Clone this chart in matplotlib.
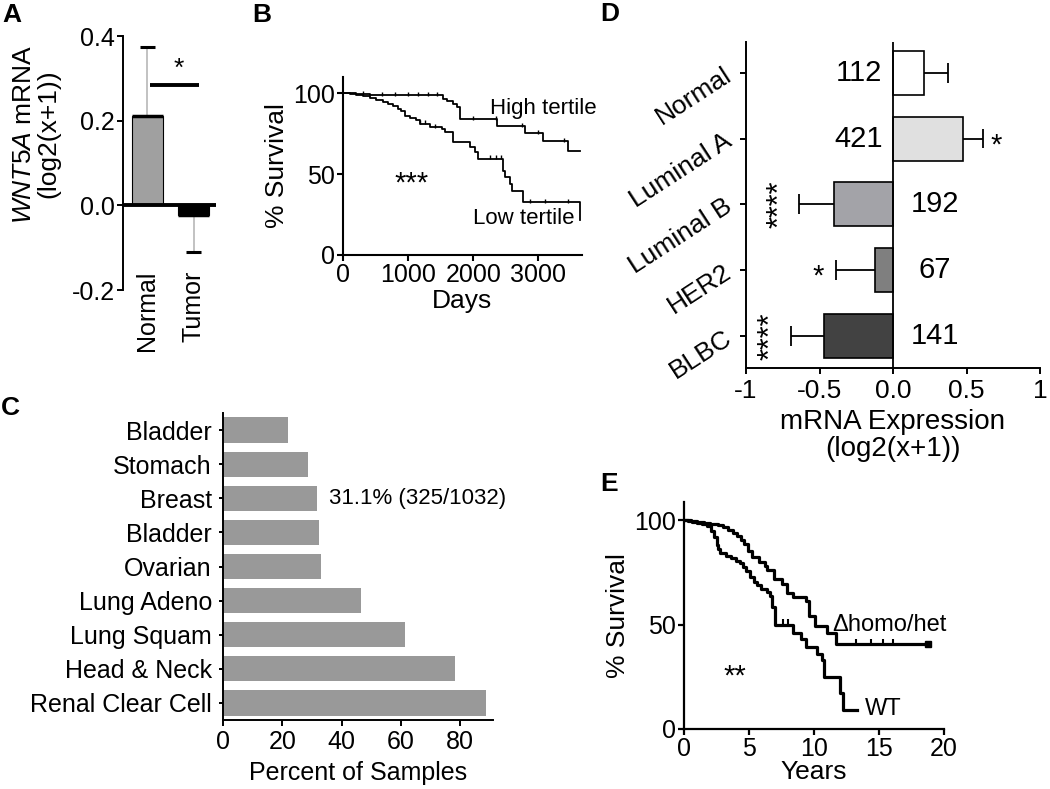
import matplotlib
matplotlib.use('Agg')
import matplotlib.pyplot as plt
import numpy as np

plt.rcParams['font.family'] = ['Liberation Sans', 'DejaVu Sans']
plt.rcParams['mathtext.fontset'] = 'custom'
plt.rcParams['mathtext.rm'] = 'Liberation Sans'
plt.rcParams['mathtext.it'] = 'Liberation Sans:italic'

# ---------------- data ----------------
# Panel A
a_groups = ['Normal', 'Tumor']
a_means = [0.21, -0.022]
a_err_end = [0.375, -0.11]
a_colors = ['#a0a0a0', '#000000']
a_sig_y = 0.285

# Panel B (Kaplan-Meier, days)
b_high_days = [0, 205, 410, 1540, 1600, 1692, 1744, 1795, 2359, 2795, 3077, 3462, 3640]
b_high_surv = [100, 99.2, 98.6, 96.5, 95, 93.4, 91.4, 83.8, 79.5, 75.4, 70.2, 64, 64]
b_low_days = [0, 103, 205, 308, 410, 513, 615, 692, 769, 846, 897, 949, 1026, 1128,
              1179, 1333, 1513, 1564, 1692, 1949, 2026, 2077, 2451, 2487, 2564, 2590,
              2759, 3640]
b_low_surv = [100, 99.2, 98.6, 98, 97.1, 95.9, 94.5, 93.4, 91.8, 90, 88.9, 86.2, 84.6,
              83.2, 81.1, 79, 78, 76, 70, 67, 63.7, 59.5, 52, 48, 44, 39.6, 32.8, 21.6]
b_high_cens = [300, 600, 800, 1000, 1150, 1300, 1450, 2000, 2350, 2750, 3000, 3400]
b_low_cens = [1180, 1260, 1420, 2250, 2350, 2420, 2870, 3100, 3450]

# Panel C
c_cancers = ['Bladder', 'Stomach', 'Breast', 'Bladder', 'Ovarian', 'Lung Adeno',
             'Lung Squam', 'Head & Neck', 'Renal Clear Cell']
c_percent = [21.8, 28.7, 31.8, 32.3, 33.1, 46.4, 61.5, 78.1, 88.7]
c_note = '31.1% (325/1032)'

# Panel D
d_subtypes = ['Normal', 'Luminal A', 'Luminal B', 'HER2', 'BLBC']
d_means = [0.21, 0.478, -0.40, -0.122, -0.471]
d_err_end = [0.371, 0.611, -0.638, -0.389, -0.696]
d_counts = ['112', '421', '192', '67', '141']
d_sig = ['', '*', '****', '*', '****']
d_colors = ['#ffffff', '#e0e0e0', '#a3a3a8', '#7f7f7f', '#424242']

# Panel E (Kaplan-Meier, years)
e_wt_years = [0, 0.3, 0.6, 1.0, 1.4, 1.8, 2.1, 2.3, 2.5, 2.6, 2.8, 3.2, 3.6, 4.0, 4.3,
              4.5, 4.8, 5.1, 5.4, 5.6, 5.9, 6.4, 6.6, 6.8, 7.0, 8.4, 9.0, 9.4, 10.2,
              10.6, 10.8, 12.0, 12.2, 13.3]
e_wt_surv = [100, 99.5, 99, 98.5, 98, 97, 95, 92, 88, 86, 84.5, 83, 82, 80.5, 79.5,
             77.5, 75.5, 73, 70.5, 69, 67, 65.8, 63.5, 58.5, 50, 46, 43, 39.5, 36,
             33, 25, 17, 9, 9]
e_del_years = [0, 0.5, 1.0, 1.5, 2.0, 2.6, 3.0, 3.4, 3.8, 4.1, 4.4, 4.6, 4.9, 5.2,
               5.8, 6.2, 6.4, 6.9, 7.5, 7.9, 8.4, 9.4, 9.6, 10.1, 11.0, 11.7, 18.8]
e_del_surv = [100, 99.5, 99, 98.5, 98, 97.5, 96.5, 95.5, 94, 92.5, 90.5, 88.5, 85,
              82.5, 80, 78, 76, 72, 69.5, 65, 63.2, 61.5, 54, 49.5, 46, 40.5, 40.5]
e_del_cens = [13.2, 14.4, 15.3, 16.1]
e_wt_cens = [7.6, 8.0]

# ---------------- layout helpers ----------------
W, H = 1050, 789
fig = plt.figure(figsize=(W / 100, H / 100), dpi=100)
TICK = 18


def ax_px(left, top, right, bottom):
    return fig.add_axes([left / W, 1 - bottom / H, (right - left) / W, (bottom - top) / H])


def ftext(x, y, s, **kw):
    fig.text(x / W, 1 - y / H, s, **kw)


def style(ax, lw=1.4):
    for s in ['top', 'right']:
        ax.spines[s].set_visible(False)
    for s in ['left', 'bottom']:
        ax.spines[s].set_linewidth(lw)
    ax.tick_params(width=lw, length=4, labelsize=TICK)


def km_y(times, surv, t):
    idx = np.searchsorted(np.asarray(times), np.asarray(t), side='right') - 1
    return np.asarray(surv)[idx]


# ---------------- Panel A ----------------
axA = ax_px(123, 36, 216, 290)
style(axA)
axA.set_ylim(-0.2, 0.4)
axA.set_xlim(-0.52, 1.48)
xa = np.arange(len(a_groups))
axA.bar(xa, a_means, width=0.66, color=a_colors, edgecolor='black', linewidth=0.8, zorder=2)
axA.hlines(a_means, xa - 0.33, xa + 0.33, color='black', linewidth=2.5, zorder=3)
axA.vlines(xa, a_means, a_err_end, color='#bdbdbd', linewidth=1.3, zorder=1)
axA.hlines(a_err_end, xa - 0.16, xa + 0.16, color='black', linewidth=2.2, zorder=3)
axA.axhline(0, color='black', linewidth=2.8, zorder=4)
axA.hlines(a_sig_y, 0.07, 1.12, color='black', linewidth=2.8)
axA.text(0.67, a_sig_y + 0.01, '*', ha='center', va='bottom', fontsize=19)
axA.spines['bottom'].set_visible(False)
axA.set_yticks([-0.2, 0.0, 0.2, 0.4])
axA.set_yticklabels(['-0.2', '0.0', '0.2', '0.4'])
axA.set_xticks(xa)
axA.set_xticklabels(a_groups, rotation=90, fontsize=18)
axA.tick_params(axis='x', length=0, pad=-14)
axA.tick_params(axis='y', pad=2)
ftext(36, 134, r"$\it{WNT5A}$ mRNA" + "\n(log2(x+1))", rotation=90, ha='center',
      va='center', fontsize=19, multialignment='center', linespacing=1.05)

# ---------------- Panel B ----------------
axB = ax_px(343, 77, 582, 255)
style(axB, 1.5)
axB.step(b_high_days, b_high_surv, where='post', color='black', linewidth=1.3)
axB.step(b_low_days, b_low_surv, where='post', color='black', linewidth=1.3)
axB.plot(b_high_cens, km_y(b_high_days, b_high_surv, b_high_cens) + 0.8, '|',
         color='black', markersize=3, markeredgewidth=1)
axB.plot(b_low_cens, km_y(b_low_days, b_low_surv, b_low_cens) + 0.8, '|',
         color='black', markersize=3, markeredgewidth=1)
axB.set_xlim(0, 3670)
axB.set_ylim(0, 110)
axB.set_xticks([0, 1000, 2000, 3000])
axB.set_yticks([0, 50, 100])
axB.tick_params(pad=2)
axB.set_xlabel('Days', fontsize=19, labelpad=1)
axB.set_ylabel('% Survival', fontsize=19, labelpad=3)
axB.text(2250, 90.5, 'High tertile', fontsize=16, ha='left', va='center', clip_on=False)
axB.text(2000, 22.5, 'Low tertile', fontsize=16, ha='left', va='center')
axB.text(1060, 44, '***', fontsize=21, ha='center', va='center')

# ---------------- Panel C ----------------
axC = ax_px(223, 413, 493, 720)
style(axC, 1.4)
yc = np.arange(len(c_cancers))
axC.barh(yc, c_percent, height=0.74, color='#999999', zorder=2)
axC.set_ylim(len(c_cancers) - 0.5, -0.5)
axC.set_xlim(0, 91)
axC.set_yticks(yc)
axC.set_yticklabels(c_cancers, fontsize=18)
axC.set_xticks([0, 20, 40, 60, 80])
axC.tick_params(axis='y', length=3, pad=5)
axC.tick_params(axis='x', length=4, pad=3)
axC.set_xlabel('Percent of Samples', fontsize=18, labelpad=5)
axC.text(35.6, 2, c_note, fontsize=16, ha='left', va='center')

# ---------------- Panel D ----------------
axD = ax_px(746, 42, 1040, 368)
style(axD, 1.4)
axD.tick_params(labelsize=19)
yd = np.arange(len(d_subtypes))
axD.barh(yd, d_means, height=0.67, color=d_colors, edgecolor='black', linewidth=1.2, zorder=2)
axD.hlines(yd, d_means, d_err_end, color='black', linewidth=1.3, zorder=1)
axD.vlines(d_err_end, yd - 0.15, yd + 0.15, color='black', linewidth=1.3)
axD.axvline(0, color='black', linewidth=1.3, zorder=3)
axD.set_xlim(-1, 1)
axD.set_ylim(len(d_subtypes) - 0.51, -0.47)
axD.set_xticks([-1, -0.5, 0, 0.5, 1])
axD.set_xticklabels(['-1', '-0.5', '0.0', '0.5', '1'])
axD.set_yticks(yd)
axD.set_yticklabels(d_subtypes, rotation=33, ha='right', va='center',
                    rotation_mode='anchor', fontsize=19)
axD.tick_params(axis='y', length=4, pad=8)
axD.tick_params(axis='x', length=4, pad=4)
axD.set_xlabel('mRNA Expression\n(log2(x+1))', fontsize=20, labelpad=4, linespacing=1.05)
for i, (m, n) in enumerate(zip(d_means, d_counts)):
    xpos = -0.235 if m > 0 else 0.285
    axD.text(xpos, i, n, fontsize=21, ha='center', va='center')
for i, (e, s) in enumerate(zip(d_err_end, d_sig)):
    if not s:
        continue
    if e > 0:
        axD.text(e + 0.09, i + 0.1, s, fontsize=21, ha='center', va='center')
    elif len(s) > 1:
        axD.text(e - 0.13, i, s, fontsize=22, ha='center', va='center', rotation=90)
    else:
        axD.text(e - 0.12, i + 0.1, s, fontsize=21, ha='center', va='center')

# ---------------- Panel E ----------------
axE = ax_px(684, 502, 944, 729)
style(axE, 1.6)
axE.step(e_wt_years, e_wt_surv, where='post', color='black', linewidth=2.3)
axE.step(e_del_years, e_del_surv, where='post', color='black', linewidth=2.3)
axE.plot(e_del_cens, km_y(e_del_years, e_del_surv, e_del_cens) + 1.2, '|',
         color='black', markersize=5, markeredgewidth=1.5)
axE.plot(e_wt_cens, km_y(e_wt_years, e_wt_surv, e_wt_cens) + 1.2, '|',
         color='black', markersize=5, markeredgewidth=1.5)
axE.plot([e_del_years[-1]], [e_del_surv[-1]], 's', color='black', markersize=4)
axE.set_xlim(0, 20)
axE.set_ylim(0, 108.7)
axE.set_xticks([0, 5, 10, 15, 20])
axE.set_yticks([0, 50, 100])
axE.tick_params(pad=2)
axE.set_xlabel('Years', fontsize=19, labelpad=-1)
axE.set_ylabel('% Survival', fontsize=19, labelpad=3)
axE.text(11.4, 50, '\u0394homo/het', fontsize=17, ha='left', va='center')
axE.text(13.9, 9.5, 'WT', fontsize=17, ha='left', va='center')
axE.text(3.9, 25, '**', fontsize=21, ha='center', va='center')

# ---------------- panel letters ----------------
for lab, x, y in [('A', 2, 15), ('B', 252, 15), ('C', 1, 408), ('D', 600, 14), ('E', 600, 484)]:
    ftext(x, y, lab, fontsize=19, fontweight='bold', ha='left', va='center')

fig.savefig('out.png', dpi=100)
